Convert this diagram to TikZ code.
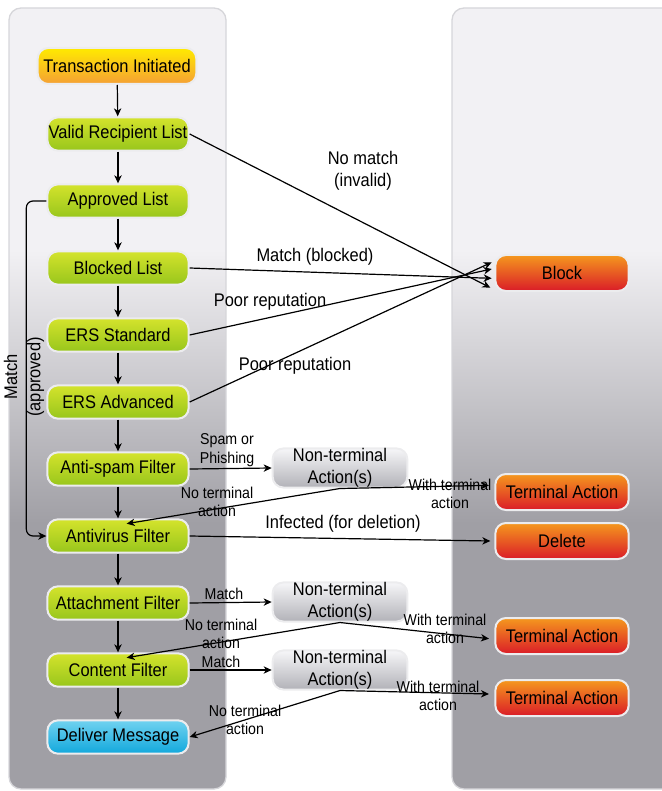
\documentclass[tikz,border=0pt]{standalone}
\usepackage{fontspec}
\setmainfont{Liberation Sans}[FakeStretch=0.9]
\usetikzlibrary{arrows.meta}

\definecolor{panelLight}{RGB}{242,241,244}
\definecolor{panelDark}{RGB}{160,159,165}
\pgfdeclareverticalshading{panelshade}{100bp}{color(0bp)=(panelDark); color(42bp)=(panelDark); color(59.5bp)=(panelLight); color(100bp)=(panelLight)}

\tikzset{every picture/.style={line width=0.75pt}}
\tikzset{
	panel/.style={draw={rgb, 255:red, 214; green, 214; blue, 218}, line width=1pt, rounded corners=9pt, shading=panelshade},
	stepbox/.style={rectangle, rounded corners=8pt, draw={rgb, 255:red, 236; green, 236; blue, 238}, line width=1.5pt, minimum width=106pt, minimum height=25pt, inner sep=0pt, align=center, font=\fontsize{13.7}{16.5}\selectfont},
	filterbox/.style={stepbox, top color={rgb, 255:red, 212; green, 227; blue, 44}, bottom color={rgb, 255:red, 152; green, 198; blue, 28}},
	startbox/.style={stepbox, minimum width=119pt, minimum height=27pt, top color={rgb, 255:red, 255; green, 234; blue, 0}, bottom color={rgb, 255:red, 245; green, 160; blue, 52}},
	deliverbox/.style={stepbox, top color={rgb, 255:red, 112; green, 210; blue, 240}, bottom color={rgb, 255:red, 18; green, 168; blue, 220}},
	endbox/.style={stepbox, minimum width=100pt, minimum height=27pt, top color={rgb, 255:red, 245; green, 152; blue, 30}, middle color={rgb, 255:red, 234; green, 64; blue, 36}, bottom color={rgb, 255:red, 218; green, 28; blue, 40}},
	ntbox/.style={stepbox, minimum width=101pt, minimum height=28.5pt, top color={rgb, 255:red, 246; green, 246; blue, 248}, bottom color={rgb, 255:red, 178; green, 178; blue, 184}},
	lbl/.style={inner sep=0pt, align=center, font=\fontsize{13.7}{16.5}\selectfont},
	smalllbl/.style={inner sep=0pt, align=center, font=\fontsize{11.8}{13.8}\selectfont},
	arr/.style={line width=0.9pt, -{Stealth[length=6pt, width=5.5pt, inset=1.8pt]}}
}

\begin{document}
\begin{tikzpicture}[x=0.75pt,y=0.75pt,yscale=-1,xscale=1]
	\useasboundingbox (0,0) rectangle (661,791);

	%Panels
	\path [panel] (9,8) rectangle (226,789);
	\path [panel] (452,8) rectangle (680,789);

	%Left column
	\node [startbox] (trans) at (117,66) {Transaction Initiated};
	\node [filterbox] (valid) at (118,134) {Valid Recipient List};
	\node [filterbox] (approved) at (118,201) {Approved List};
	\node [filterbox] (blocked) at (118,268) {Blocked List};
	\node [filterbox] (ersstd) at (118,335) {ERS Standard};
	\node [filterbox] (ersadv) at (118,402) {ERS Advanced};
	\node [filterbox] (antispam) at (118,469) {Anti-spam Filter};
	\node [filterbox] (antivirus) at (118,536) {Antivirus Filter};
	\node [filterbox] (attach) at (118,603) {Attachment Filter};
	\node [filterbox] (content) at (118,670) {Content Filter};
	\node [deliverbox] (deliver) at (118,737) {Deliver Message};

	%Middle column
	\node [ntbox] (nt1) at (340,468) {Non-terminal\\Action(s)};
	\node [ntbox] (nt2) at (340,602) {Non-terminal\\Action(s)};
	\node [ntbox] (nt3) at (340,670) {Non-terminal\\Action(s)};

	%Right column
	\node [endbox] (block) at (562,273) {Block};
	\node [endbox] (ta1) at (562,492) {Terminal Action};
	\node [endbox] (delete) at (562,541) {Delete};
	\node [endbox] (ta2) at (562,636) {Terminal Action};
	\node [endbox] (ta3) at (562,698) {Terminal Action};

	%Straight Lines down the column
	\draw [arr] (trans) -- (valid);
	\draw [arr] (valid) -- (approved);
	\draw [arr] (approved) -- (blocked);
	\draw [arr] (blocked) -- (ersstd);
	\draw [arr] (ersstd) -- (ersadv);
	\draw [arr] (ersadv) -- (antispam);
	\draw [arr] (antispam) -- (antivirus);
	\draw [arr] (antivirus) -- (attach);
	\draw [arr] (attach) -- (content);
	\draw [arr] (content) -- (deliver);

	%Match (approved) bypass
	\draw [arr, rounded corners=5pt] (approved.west) -- ++(-20,0) |- (antivirus.west);

	%Lines to Block
	\draw [arr] (valid.east) -- ([xshift=-3pt,yshift=11pt]block.west);
	\draw [arr] (blocked.east) -- ([xshift=-2pt,yshift=4pt]block.west);
	\draw [arr] (ersstd.east) -- ([xshift=-2pt,yshift=-3pt]block.west);
	\draw [arr] (ersadv.east) -- ([xshift=-2pt,yshift=-8pt]block.west);

	%Anti-spam branch
	\draw [arr] (antispam.east) -- (nt1.west);
	\draw [arr] (nt1.south) -- ([xshift=6.5pt,yshift=4pt]antivirus.north);
	\draw [arr] (nt1.south) -- ([xshift=-4pt,yshift=-5pt]ta1.west);

	%Antivirus to Delete
	\draw [arr] (antivirus.east) -- ([xshift=-3pt]delete.west);

	%Attachment branch
	\draw [arr] (attach.east) -- (nt2.west);
	\draw [arr] (nt2.south) -- ([xshift=6.5pt,yshift=4pt]content.north);
	\draw [arr] (nt2.south) -- ([xshift=-4pt,yshift=2pt]ta2.west);

	%Content branch
	\draw [arr] (content.east) -- (nt3.west);
	\draw [arr] (nt3.south) -- (deliver.east);
	\draw [arr] (nt3.south) -- ([xshift=-4pt,yshift=-3pt]ta3.west);

	% Text Node
	\node [lbl, rotate=90, font=\fontsize{13.7}{17.5}\selectfont] (lblApproved) at (24,377) {Match\\(approved)};
	% Text Node
	\node [lbl] (lblNoMatch) at (363,171) {No match\\(invalid)};
	% Text Node
	\node [lbl] (lblBlocked) at (315,257) {Match (blocked)};
	% Text Node
	\node [lbl] (lblPoorStd) at (270,302) {Poor reputation};
	% Text Node
	\node [lbl] (lblPoorAdv) at (295,366) {Poor reputation};
	% Text Node
	\node [smalllbl] (lblSpam) at (227,450) {Spam or\\Phishing};
	% Text Node
	\node [smalllbl] (lblNoTermA) at (217,502) {No terminal\\action};
	% Text Node
	\node [smalllbl] (lblTermA) at (450,494) {With terminal\\action};
	% Text Node
	\node [lbl] (lblInfected) at (343,524) {Infected (for deletion)};
	% Text Node
	\node [smalllbl] (lblMatchB) at (224,594) {Match};
	% Text Node
	\node [smalllbl] (lblNoTermB) at (221,634) {No terminal\\action};
	% Text Node
	\node [smalllbl] (lblTermB) at (445,629) {With terminal\\action};
	% Text Node
	\node [smalllbl] (lblMatchC) at (221,662) {Match};
	% Text Node
	\node [smalllbl] (lblNoTermC) at (245,720) {No terminal\\action};
	% Text Node
	\node [smalllbl] (lblTermC) at (438,696) {With terminal\\action};

\end{tikzpicture}
\end{document}
